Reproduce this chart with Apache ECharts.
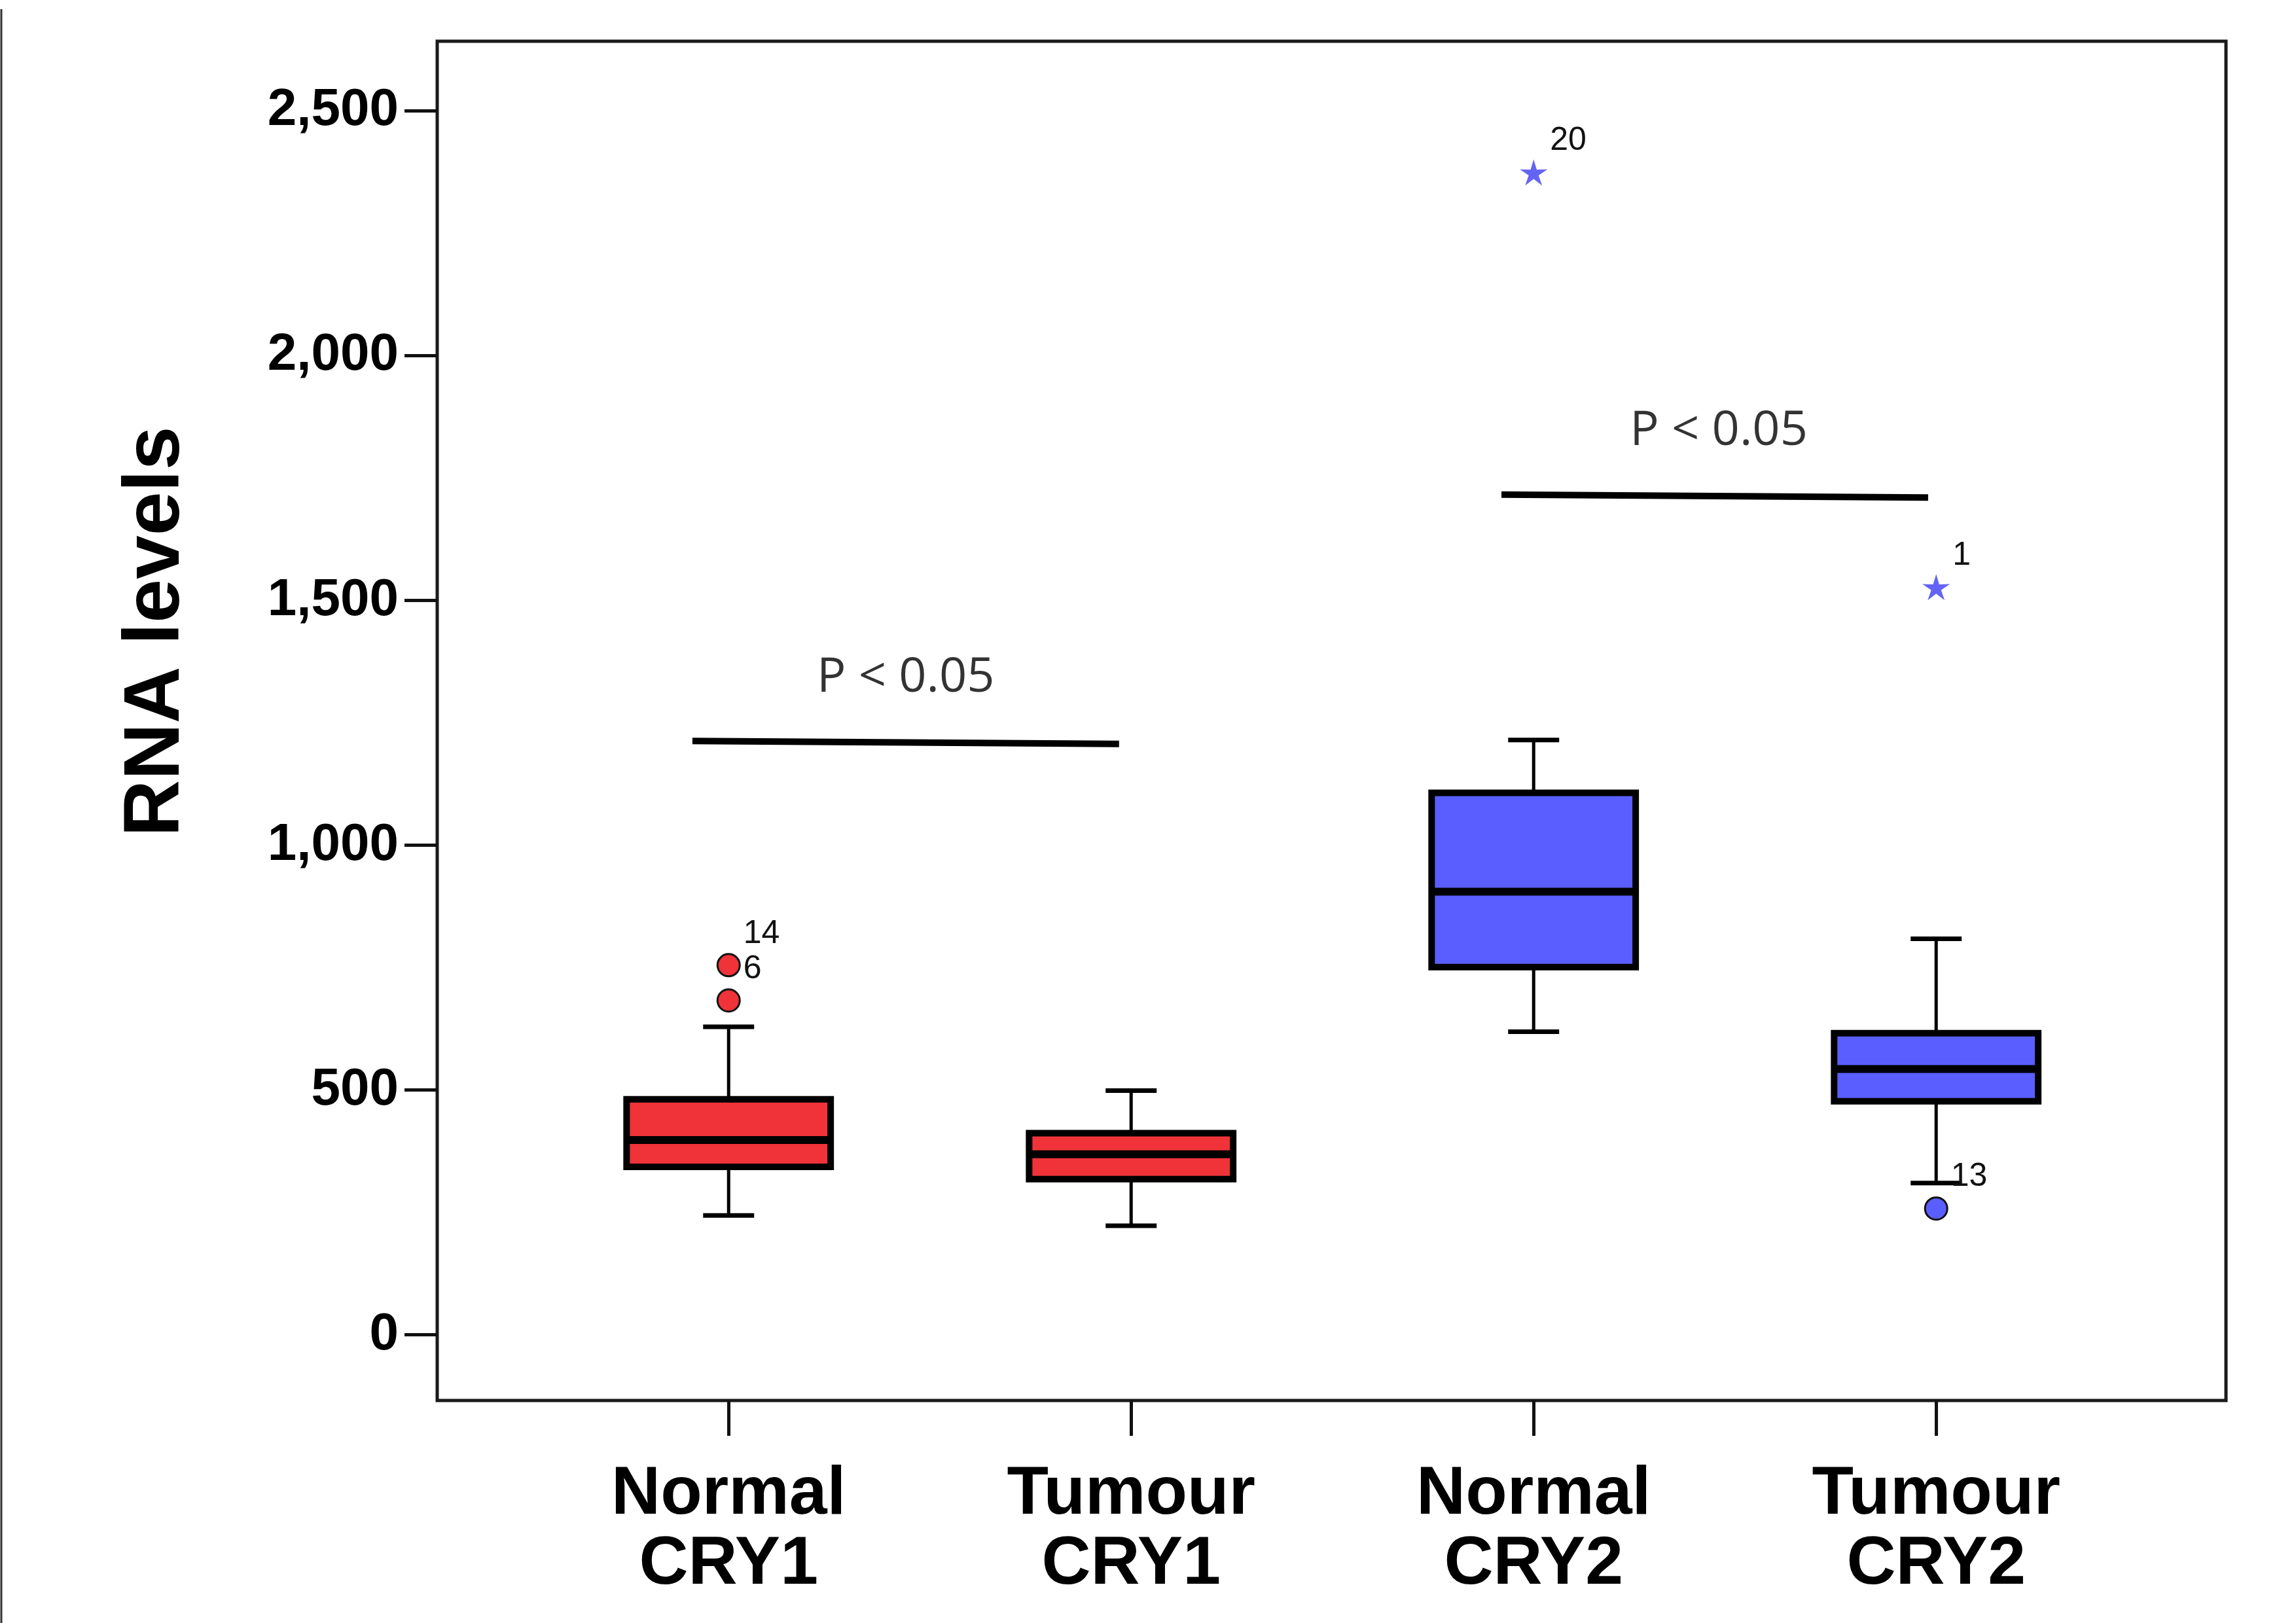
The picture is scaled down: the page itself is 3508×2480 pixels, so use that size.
<!DOCTYPE html>
<html>
<head>
<meta charset="utf-8">
<title>RNA levels</title>
<script src="https://cdn.jsdelivr.net/npm/echarts@6/dist/echarts.min.js"></script>
<style>
html, body { margin: 0; padding: 0; background: #fff; }
#chart { width: 3508px; height: 2480px; }
</style>
</head>
<body>
<div id="chart"></div>
<script>
var groups = ['Normal\nCRY1', 'Tumour\nCRY1', 'Normal\nCRY2', 'Tumour\nCRY2'];
var groupIndex = [0, 1, 2, 3];
// lower whisker, Q1, median, Q3, upper whisker
var boxStats = [
    [244, 343, 398, 481, 629],
    [223, 318, 369, 412, 499],
    [619, 751, 905, 1107, 1215],
    [310, 477, 543, 616, 809]
];
// outliers: group index, value, case number
var circleOutliers = [[0, 755, '14'], [0, 683, '6'], [3, 258, '13']];
var starOutliers = [[2, 2374, '20'], [3, 1527, '1']];
// significance bars, x in group units
var sigBarCry1 = [[-0.09, 1213], [0.97, 1207]];
var sigBarCry2 = [[1.92, 1716], [2.98, 1710]];
var sigLabels = [[0.44, 1341, 'P < 0.05'], [2.46, 1846, 'P < 0.05']];
var yTicks = [0, 500, 1000, 1500, 2000, 2500];
var yRange = [-134, 2642];
var xRange = [-0.724, 3.72];

var red = '#ef3339';
var blue = '#5b5eff';
var starPath = 'path://M50,0 L60.58,35.44 L97.55,34.55 L67.12,55.56 L79.39,90.45 L50,68 L20.61,90.45 L32.88,55.56 L2.45,34.55 L39.42,35.44 Z';

function renderBox(params, api) {
    var idx = api.value(0);
    var lo = api.coord([idx, api.value(1)]);
    var q1 = api.coord([idx, api.value(2)]);
    var med = api.coord([idx, api.value(3)]);
    var q3 = api.coord([idx, api.value(4)]);
    var hi = api.coord([idx, api.value(5)]);
    var band = api.size([1, 0])[0];
    var bw = band * 0.507;
    var cw = bw * 0.25;
    var x = lo[0];
    var fill = idx < 2 ? red : blue;
    return {
        type: 'group',
        children: [
            { type: 'line', shape: { x1: x, y1: hi[1], x2: x, y2: q3[1] }, style: { stroke: '#000', lineWidth: 5 } },
            { type: 'line', shape: { x1: x, y1: q1[1], x2: x, y2: lo[1] }, style: { stroke: '#000', lineWidth: 5 } },
            { type: 'line', shape: { x1: x - cw / 2, y1: hi[1], x2: x + cw / 2, y2: hi[1] }, style: { stroke: '#000', lineWidth: 7 } },
            { type: 'line', shape: { x1: x - cw / 2, y1: lo[1], x2: x + cw / 2, y2: lo[1] }, style: { stroke: '#000', lineWidth: 7 } },
            { type: 'rect', shape: { x: x - bw / 2, y: q3[1], width: bw, height: q1[1] - q3[1] }, style: { fill: fill, stroke: '#000', lineWidth: 10 } },
            { type: 'line', shape: { x1: x - bw / 2, y1: med[1], x2: x + bw / 2, y2: med[1] }, style: { stroke: '#000', lineWidth: 12 } }
        ]
    };
}

var outlierLabel = {
    show: true,
    position: 'right',
    distance: 4,
    offset: [0, -48],
    formatter: '{b}',
    fontSize: 50,
    fontFamily: 'Liberation Sans',
    color: '#111'
};

window.onload = function() {
    var chart = echarts.init(document.getElementById('chart'), null, { renderer: 'canvas' });
    chart.setOption({
        animation: false,
        backgroundColor: '#fff',
        grid: {
            left: 668, right: 107, top: 63, bottom: 340,
            show: true, borderColor: '#1a1a1a', borderWidth: 5
        },
        xAxis: {
            type: 'value',
            min: xRange[0],
            max: xRange[1],
            splitLine: { show: false },
            axisLine: { show: false, onZero: false },
            axisTick: {
                show: true,
                customValues: groupIndex,
                length: 54,
                lineStyle: { color: '#111', width: 5 }
            },
            axisLabel: {
                customValues: groupIndex,
                formatter: function(v) { return groups[Math.round(v)]; },
                fontSize: 104,
                fontWeight: 'bold',
                fontFamily: 'Liberation Sans',
                lineHeight: 107,
                margin: 91,
                color: '#000'
            }
        },
        yAxis: {
            type: 'value',
            min: yRange[0],
            max: yRange[1],
            splitLine: { show: false },
            axisLine: { show: false, onZero: false },
            axisTick: {
                show: true,
                customValues: yTicks,
                length: 50,
                lineStyle: { color: '#111', width: 5 }
            },
            axisLabel: {
                customValues: yTicks,
                fontSize: 80,
                fontWeight: 'bold',
                fontFamily: 'Liberation Sans',
                margin: 59,
                color: '#000',
                formatter: function(v) { return v.toLocaleString('en-US'); }
            }
        },
        series: [
            {
                type: 'custom',
                renderItem: renderBox,
                encode: { x: 0, y: [1, 2, 3, 4, 5] },
                data: boxStats.map(function(s, i) { return [i].concat(s); }),
                z: 2
            },
            {
                type: 'scatter',
                symbol: 'circle',
                symbolSize: 34,
                itemStyle: { borderColor: '#111', borderWidth: 3, opacity: 1 },
                label: outlierLabel,
                data: circleOutliers.map(function(o) {
                    return { value: [o[0], o[1]], name: o[2], itemStyle: { color: o[0] < 2 ? red : blue } };
                }),
                z: 3
            },
            {
                type: 'scatter',
                symbol: starPath,
                symbolKeepAspect: true,
                symbolSize: 42,
                itemStyle: { color: '#6464f4', opacity: 1 },
                label: outlierLabel,
                data: starOutliers.map(function(o) { return { value: [o[0], o[1]], name: o[2] }; }),
                z: 3
            },
            {
                type: 'line',
                data: sigBarCry1,
                symbol: 'none',
                lineStyle: { color: '#000', width: 10 }
            },
            {
                type: 'line',
                data: sigBarCry2,
                symbol: 'none',
                lineStyle: { color: '#000', width: 10 }
            },
            {
                type: 'scatter',
                symbolSize: 1,
                itemStyle: { color: 'rgba(0,0,0,0)' },
                label: {
                    show: true,
                    position: 'inside',
                    formatter: '{b}',
                    fontSize: 74,
                    fontFamily: 'Open Sans',
                    color: '#000'
                },
                data: sigLabels.map(function(p) { return { value: [p[0], p[1]], name: p[2] }; })
            }
        ],
        graphic: [
            {
                type: 'text',
                x: 240,
                y: 965,
                rotation: Math.PI / 2,
                style: {
                    text: 'RNA levels',
                    font: 'bold 120px "Liberation Sans"',
                    fill: '#000',
                    align: 'center',
                    verticalAlign: 'middle',
                    textAlign: 'center',
                    textVerticalAlign: 'middle'
                }
            },
            {
                type: 'line',
                shape: { x1: 2, y1: 14, x2: 2, y2: 2480 },
                style: { stroke: '#333', lineWidth: 3 }
            }
        ]
    });
};
</script>
</body>
</html>
